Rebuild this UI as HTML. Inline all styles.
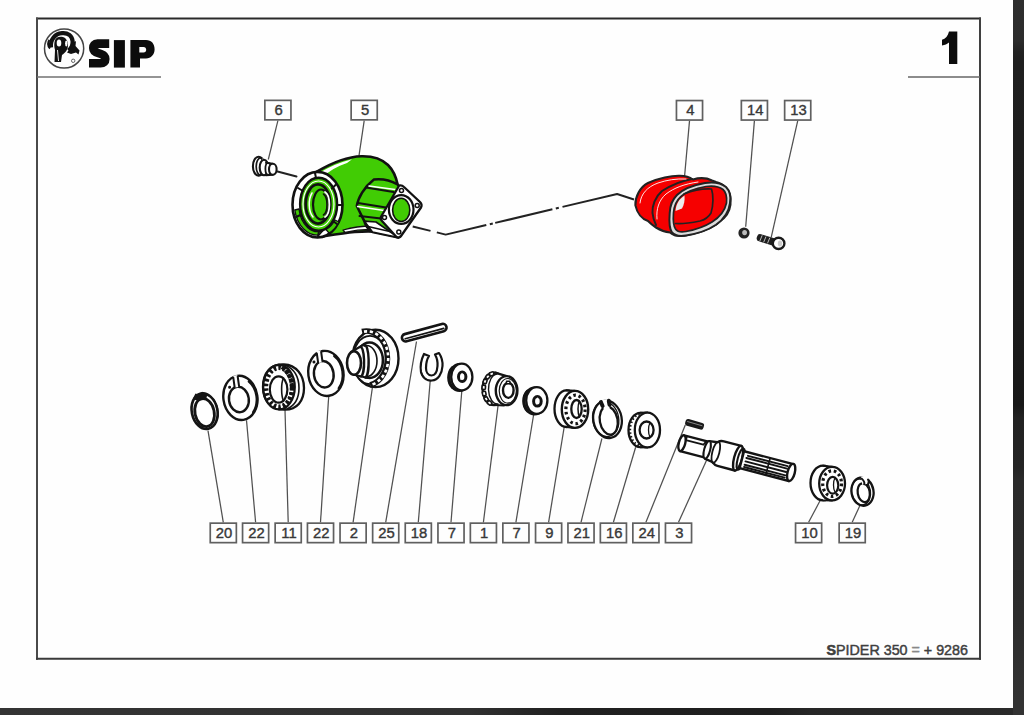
<!DOCTYPE html>
<html><head><meta charset="utf-8">
<style>
html,body{margin:0;padding:0;background:#fefefe;}
body{width:1024px;height:715px;position:relative;overflow:hidden;font-family:"Liberation Sans",sans-serif;}
#darkR{position:absolute;left:1013px;top:0;width:11px;height:715px;background:linear-gradient(#2e2e2e 0px,#2c2c2c 40px,#222 52px,#1f1f1f 62px,#1c1c1c 300px,#181818 405px,#222 418px,#242424 468px,#2a2a2a 480px,#2c2c2c 620px,#333 700px);}
#darkB{position:absolute;left:0;top:708px;width:1013px;height:7px;background:linear-gradient(90deg,#343434 0px,#303030 470px,#202020 560px,#1e1e1e 770px,#262626 810px,#2a2a2a 1013px);}
svg{position:absolute;left:0;top:0;}
.n{font-family:"Liberation Sans",sans-serif;font-size:15.2px;fill:#383838;stroke:#383838;stroke-width:0.4px;text-anchor:middle;}
.ld{stroke:#505050;stroke-width:1.25;}
</style></head><body>
<div id="darkR"></div><div id="darkB"></div>
<svg width="1024" height="715" viewBox="0 0 1024 715">
  <line x1="36" y1="18.4" x2="981" y2="18.4" stroke="#2a2a2a" stroke-width="2"/>
  <line x1="37" y1="17.4" x2="37" y2="659.8" stroke="#4a4a4a" stroke-width="2"/>
  <line x1="980" y1="17.4" x2="980" y2="659.8" stroke="#404040" stroke-width="2"/>
  <line x1="36" y1="658.8" x2="981" y2="658.8" stroke="#3a3a3a" stroke-width="2"/>
  <line x1="37" y1="77" x2="161" y2="77" stroke="#707070" stroke-width="1.4"/>
  <line x1="908" y1="77" x2="980" y2="77" stroke="#666" stroke-width="1.4"/>
  <circle cx="64.1" cy="48.5" r="19.6" fill="none" stroke="#444" stroke-width="1.5"/>
  <path d="M51,47.5 C50,39.5 55,33.8 62,33.2 C68,32.6 72,36 72.6,41 C73,45 71.5,48 68.5,50.5" fill="none" stroke="#111" stroke-width="4.2"/>
  <path d="M49.5,40 C47.5,42 47.5,46 50,48.5" fill="none" stroke="#111" stroke-width="2"/>
  <path d="M55,40 C56,37 60,36 63,37 C66,38 68,41 68,45 C68,50 65,53 62,55 L61,62 L54.5,62 L55,50 C54,47 54,43 55,40 Z" fill="#111"/>
  <ellipse cx="59" cy="43" rx="2.3" ry="3.6" fill="#fff"/>
  <ellipse cx="66.3" cy="43.5" rx="1.2" ry="3" fill="#fff"/>
  <path d="M57.5,50 L58.5,61" stroke="#fff" stroke-width="0.9" fill="none"/>
  <path d="M67,52.5 C70,49 72,45 73,38.5 L74.5,42 L76,41 L75.5,46 L79.5,50.5 L78.5,54.5 L76,52.5 L71,54 Z" fill="#111"/>
  <circle cx="73.2" cy="60.8" r="1.7" fill="none" stroke="#555" stroke-width="0.9"/>
  <path d="M109.2,43.6 L97.5,43.6 C94.5,43.6 93.3,45.5 93.3,48 C93.3,50.8 95,52 98,53 L101,54 C104,55 105.3,56.5 105.3,59 C105.3,61.8 103.8,63.3 100.5,63.3 L89,63.3" fill="none" stroke="#0c0c0c" stroke-width="8.6" stroke-linejoin="round"/>
  <rect x="113.9" y="40.1" width="11" height="27.5" fill="#0c0c0c"/>
  <path fill-rule="evenodd" fill="#0c0c0c" d="M130.4,40.1 H146 C151.5,40.1 154.6,44 154.6,49.2 C154.6,54.5 151,58.4 146,58.4 H140 V67.6 H130.4 Z M139.3,47 H143.5 C145.3,47 146.2,48.2 146.2,49.8 C146.2,51.4 145.3,52.6 143.5,52.6 H139.3 Z"/>
  <path d="M949,31.5 H957.3 V64 H949 V42.5 C947.2,44 944.8,45 942,45.5 V39.8 C945.5,38.8 948,35.8 949,31.5 Z" fill="#0c0c0c"/>
  <text x="826.5" y="654.5" font-family="Liberation Sans" font-size="14.5" fill="#3e3e3e" stroke="#3e3e3e" stroke-width="0.45" textLength="141.5" lengthAdjust="spacingAndGlyphs"><tspan font-weight="bold" stroke-width="0.6">S</tspan>PIDER 350 <tspan fill="#888" stroke="#888">=</tspan> + 9286</text>
<rect x="264.85" y="100.35" width="26.10" height="19.50" fill="none" stroke="#606060" stroke-width="1.7"/>
<text transform="translate(278.70,115.20) scale(0.975,1)" class="n">6</text>
<line x1="277.90" y1="120.70" x2="268.3" y2="159.5" class="ld"/>
<rect x="351.15" y="100.35" width="26.10" height="19.50" fill="none" stroke="#606060" stroke-width="1.7"/>
<text transform="translate(365.00,115.20) scale(0.975,1)" class="n">5</text>
<line x1="364.20" y1="120.70" x2="359" y2="155.6" class="ld"/>
<rect x="676.45" y="100.55" width="26.10" height="19.50" fill="none" stroke="#606060" stroke-width="1.7"/>
<text transform="translate(690.30,115.40) scale(0.975,1)" class="n">4</text>
<line x1="689.50" y1="120.90" x2="684.5" y2="177" class="ld"/>
<rect x="741.35" y="100.55" width="26.10" height="19.50" fill="none" stroke="#606060" stroke-width="1.7"/>
<text transform="translate(755.20,115.40) scale(0.975,1)" class="n">14</text>
<line x1="754.40" y1="120.90" x2="745.7" y2="226.8" class="ld"/>
<rect x="784.65" y="100.55" width="26.10" height="19.50" fill="none" stroke="#606060" stroke-width="1.7"/>
<text transform="translate(798.50,115.40) scale(0.975,1)" class="n">13</text>
<line x1="797.70" y1="120.90" x2="771.2" y2="237.3" class="ld"/>
<rect x="210.25" y="523.15" width="26.10" height="19.50" fill="none" stroke="#606060" stroke-width="1.7"/>
<text transform="translate(224.10,538.00) scale(0.975,1)" class="n">20</text>
<line x1="223.30" y1="522.30" x2="208" y2="430.7" class="ld"/>
<rect x="242.55" y="523.15" width="26.10" height="19.50" fill="none" stroke="#606060" stroke-width="1.7"/>
<text transform="translate(256.40,538.00) scale(0.975,1)" class="n">22</text>
<line x1="255.60" y1="522.30" x2="246.5" y2="420.2" class="ld"/>
<rect x="275.15" y="523.15" width="26.10" height="19.50" fill="none" stroke="#606060" stroke-width="1.7"/>
<text transform="translate(289.00,538.00) scale(0.975,1)" class="n">11</text>
<line x1="288.20" y1="522.30" x2="285" y2="409.7" class="ld"/>
<rect x="307.45" y="523.15" width="26.10" height="19.50" fill="none" stroke="#606060" stroke-width="1.7"/>
<text transform="translate(321.30,538.00) scale(0.975,1)" class="n">22</text>
<line x1="320.50" y1="522.30" x2="328.7" y2="396.5" class="ld"/>
<rect x="340.05" y="523.15" width="26.10" height="19.50" fill="none" stroke="#606060" stroke-width="1.7"/>
<text transform="translate(353.90,538.00) scale(0.975,1)" class="n">2</text>
<line x1="353.10" y1="522.30" x2="372.4" y2="387.5" class="ld"/>
<rect x="372.65" y="523.15" width="26.10" height="19.50" fill="none" stroke="#606060" stroke-width="1.7"/>
<text transform="translate(386.50,538.00) scale(0.975,1)" class="n">25</text>
<line x1="385.70" y1="522.30" x2="416.5" y2="341.5" class="ld"/>
<rect x="405.25" y="523.15" width="26.10" height="19.50" fill="none" stroke="#606060" stroke-width="1.7"/>
<text transform="translate(419.10,538.00) scale(0.975,1)" class="n">18</text>
<line x1="418.30" y1="522.30" x2="430.2" y2="381" class="ld"/>
<rect x="437.95" y="523.15" width="26.10" height="19.50" fill="none" stroke="#606060" stroke-width="1.7"/>
<text transform="translate(451.80,538.00) scale(0.975,1)" class="n">7</text>
<line x1="451.00" y1="522.30" x2="461.8" y2="391" class="ld"/>
<rect x="470.35" y="523.15" width="26.10" height="19.50" fill="none" stroke="#606060" stroke-width="1.7"/>
<text transform="translate(484.20,538.00) scale(0.975,1)" class="n">1</text>
<line x1="483.40" y1="522.30" x2="498" y2="406" class="ld"/>
<rect x="502.85" y="523.15" width="26.10" height="19.50" fill="none" stroke="#606060" stroke-width="1.7"/>
<text transform="translate(516.70,538.00) scale(0.975,1)" class="n">7</text>
<line x1="515.90" y1="522.30" x2="533.75" y2="414" class="ld"/>
<rect x="535.55" y="523.15" width="26.10" height="19.50" fill="none" stroke="#606060" stroke-width="1.7"/>
<text transform="translate(549.40,538.00) scale(0.975,1)" class="n">9</text>
<line x1="548.60" y1="522.30" x2="564.2" y2="427" class="ld"/>
<rect x="567.95" y="523.15" width="26.10" height="19.50" fill="none" stroke="#606060" stroke-width="1.7"/>
<text transform="translate(581.80,538.00) scale(0.975,1)" class="n">21</text>
<line x1="581.00" y1="522.30" x2="601.9" y2="438.5" class="ld"/>
<rect x="600.35" y="523.15" width="26.10" height="19.50" fill="none" stroke="#606060" stroke-width="1.7"/>
<text transform="translate(614.20,538.00) scale(0.975,1)" class="n">16</text>
<line x1="613.40" y1="522.30" x2="636" y2="446" class="ld"/>
<rect x="632.85" y="523.15" width="26.10" height="19.50" fill="none" stroke="#606060" stroke-width="1.7"/>
<text transform="translate(646.70,538.00) scale(0.975,1)" class="n">24</text>
<line x1="645.90" y1="522.30" x2="685.3" y2="424.9" class="ld"/>
<rect x="665.45" y="523.15" width="26.10" height="19.50" fill="none" stroke="#606060" stroke-width="1.7"/>
<text transform="translate(679.30,538.00) scale(0.975,1)" class="n">3</text>
<line x1="678.50" y1="522.30" x2="706.9" y2="459.6" class="ld"/>
<rect x="795.55" y="523.15" width="26.10" height="19.50" fill="none" stroke="#606060" stroke-width="1.7"/>
<text transform="translate(809.40,538.00) scale(0.975,1)" class="n">10</text>
<line x1="808.60" y1="522.30" x2="819.9" y2="501" class="ld"/>
<rect x="839.15" y="523.15" width="26.10" height="19.50" fill="none" stroke="#606060" stroke-width="1.7"/>
<text transform="translate(853.00,538.00) scale(0.975,1)" class="n">19</text>
<line x1="852.20" y1="522.30" x2="859.7" y2="506" class="ld"/>
<g id="parts" stroke-linejoin="round" stroke-linecap="round">
<!-- dash-dot line top -->
<polyline points="277.5,171.5 296.5,176.5" fill="none" stroke="#222" stroke-width="2"/>
<path d="M412.7,226.5 L430.5,230.9 M436.8,232.4 L445.7,234.6 L486.3,225 M489.8,224.2 L492.8,223.5 M495.2,222.9 L552.4,209.3 M555.8,208.5 L558.8,207.8 M562.5,206.9 L617.1,194 L634,199.5" fill="none" stroke="#222" stroke-width="2" stroke-linecap="butt"/>

<!-- plug 6 -->
<g stroke="#151515" stroke-width="2.1" fill="#fff">
  <ellipse cx="258.5" cy="166.2" rx="5.6" ry="9.4"/>
  <ellipse cx="260.6" cy="166.5" rx="4.4" ry="8.6" fill="none" stroke-width="1.7"/>
  <path d="M262,158.5 L266,160 L266,175 L262,175.5 Z" stroke="none"/>
  <ellipse cx="264" cy="167.5" rx="4.3" ry="7.8"/>
  <path d="M266,162.8 L272.8,163.7 L272.8,174.7 L266,175.2 Z" stroke="none"/>
  <line x1="266" y1="162.8" x2="272.8" y2="163.7" stroke-width="2"/>
  <line x1="266" y1="175.2" x2="272.8" y2="174.7" stroke-width="2"/>
  <ellipse cx="268.2" cy="168.8" rx="2.8" ry="6" fill="none" stroke-width="1.8"/>
  <ellipse cx="272.8" cy="169.2" rx="3.8" ry="5.5"/>
</g>

<!-- housing 5 -->
<g stroke="#111" stroke-width="2.6" fill="#41cc04">
  <path d="M316.4,171.9 C333,162 348,156.5 361.6,156.2 C372,156 381,158 388,165 C393,170 396,177 397.5,184 L380,232 C362,230 345,233 320.5,236.8 Z"/>
  <path d="M319,173 C330,166.5 340,162 352,159.2 L347,163 C337,166.5 329,171 323,177 Z" fill="#fff" stroke="none"/>
  <path d="M345,232.5 C355,230 365,229 375,229.5 L372,226 C360,226 350,228 343,230 Z" fill="#fff" stroke-width="1.3"/>
  <ellipse cx="317.5" cy="204.7" rx="25" ry="32.8" fill="#fff"/>
  <path d="M294.8,210 A23,31 0 0 0 319,235 L323,230.5 A19,27 0 0 1 299,209 Z" fill="#41cc04" stroke-width="1.4"/>
  <path d="M329,233 A23,31 0 0 0 339,222 L335,220 A19,27 0 0 1 326,229.5 Z" fill="#41cc04" stroke-width="1.2"/>
  <ellipse cx="318.6" cy="204.3" rx="18.5" ry="26.5" stroke-width="2.4"/>
  <ellipse cx="318.5" cy="204" rx="15.5" ry="23" fill="none" stroke="#fff" stroke-width="1.2"/>
  <ellipse cx="318" cy="204" rx="12.3" ry="19.6" stroke-width="2.8"/>
  <ellipse cx="321" cy="204.5" rx="8" ry="15" fill="none" stroke-width="2.2"/>
  <path d="M312,193 A8,15 0 0 0 313,217" fill="none" stroke="#fff" stroke-width="1.5"/>
  <path d="M325,192 A6,13 0 0 1 325,217" fill="none" stroke="#fff" stroke-width="1.8"/>
  <path d="M323.5,194 A5,11 0 0 1 323.5,215" fill="none" stroke-width="1.6"/>
  <line x1="298" y1="188" x2="303" y2="191" stroke-width="2"/>
  <line x1="315" y1="173" x2="316" y2="178" stroke-width="2"/>
  <line x1="335.5" y1="185" x2="332" y2="188.5" stroke-width="2"/>
  <line x1="342" y1="205" x2="337" y2="205" stroke-width="2"/>
  <line x1="337" y1="224" x2="333" y2="221" stroke-width="2"/>
  <line x1="318" y1="236.5" x2="319" y2="231" stroke-width="2"/>
  <line x1="296" y1="217" x2="300.5" y2="215" stroke-width="2"/>
  <!-- right block neck -->
  <path d="M373.9,179.4 C382,178.5 390,180 397.1,184.2 L405,192 L398.5,237.5 L372.5,232 C368,229 365,225 364.3,221.1 L356.8,206 C358,198 364,187 373.9,179.4 Z" stroke-width="2.5"/>
  <path d="M372.5,232 L364.3,221.1 L376,222 L398.5,237.5 Z" fill="#fff" stroke-width="1.6"/>
  <line x1="368" y1="226.5" x2="392" y2="232" stroke-width="1.5"/>
  <path d="M366,187.5 L393.5,192" fill="none" stroke-width="2.2"/>
  <path d="M369,186 L395,189.5" fill="none" stroke="#fff" stroke-width="1.3"/>
  <path d="M358,203 L386,207.5" fill="none" stroke-width="2.2"/>
  <path d="M357.5,206.5 L384,210.5" fill="none" stroke="#fff" stroke-width="1.3"/>
  <path d="M359.5,216 L381,218.5" fill="none" stroke-width="2"/>
  <!-- flange -->
  <path d="M399.2,185.5 C401,185 402.5,185.5 404,187 L420,202 C422,204 422,205.5 421,207.5 L401,236 C400,237.5 398,238 396.5,237 L382,221 C380.5,219.5 380.5,217.5 381.5,216 Z" fill="#fff" stroke-width="2.3"/>
  <ellipse cx="401.2" cy="209.5" rx="12.3" ry="14.4" fill="#fff" stroke-width="2.2"/>
  <ellipse cx="401.2" cy="209.9" rx="8.6" ry="11.6" stroke-width="1.6"/>
  <circle cx="401.5" cy="190.5" r="2" fill="#fff" stroke-width="1.5"/>
  <circle cx="417.2" cy="205.5" r="2" fill="#fff" stroke-width="1.5"/>
  <circle cx="398.8" cy="232" r="2" fill="#fff" stroke-width="1.5"/>
  <circle cx="384.5" cy="217.5" r="2" fill="#fff" stroke-width="1.5"/>
</g>

<!-- seal 4 -->
<g stroke="#222" stroke-width="2.1" fill="#f60000">
  <path d="M635.4,205.4 C635,197 640,187 648,183 C658,178 672,175.5 680,175.8 C686,176 690,177.5 693,179.5 C698,178 706,177.5 712,180.5 L716,182 C724,184 730,190 730.6,199 C731,206 729,213 724,218 C716,226 703,232 690,234.5 C682,236.5 676,237 672,234 L670,232.5 C665,232 660,230 656,227.5 C652,225 650,223 648,221 C642,219 637,213 635.4,205.4 Z"/>
  <path d="M692,179 C680,181 670,186 662,191 C655,197 652,206 652.5,213 C653,218 654,221 656,225" fill="none" stroke-width="2"/>
  <path d="M640,203 C641,194 647,187 658,183 C667,180 676,178.5 686,179" fill="none" stroke="#fff" stroke-width="0.9"/>
  <path d="M657,219 C656,209 659,200 666,194 C674,188 684,184 698,182" fill="none" stroke="#fff" stroke-width="0.9"/>
  <path d="M669.7,213 C670,205 673,199 677,195 C683,189 694,185 705,183 C713,181.8 721,183 726,187 C730,191 731,197 730,203 C729,211 724,219 716,224.8 C707,231 696,234 686,235.5 C680,236.5 675,236 672,232.5 C669.5,229 669,222 669.7,213 Z" fill="#dcdcdc" stroke-width="2"/>
  <path d="M673.5,213 C674,206 677,200 681,196.5 C687,191 697,188 706,186.5 C713,185.5 719,186.5 723,189.5 C726.5,192.5 727,198 726.5,203 C725,210 720,217 712,222 C704,227 694,230 686,231.5 C681,232.5 677.5,232 675.5,229 C673.5,226 673,220 673.5,213 Z" stroke-width="1.7"/>
  <path d="M684,194 C694,190 704,188.5 711.5,189 C713.5,195 713.5,205 711,213 C708,218 704,220 700,221 C690,223 682,224 675.5,223.5" fill="none" stroke-width="1.7"/>
  <path d="M675.5,211 C676,204 679,199 684.5,195.5 C685,200 684,205 682,208.5 Z" fill="#ececec" stroke="none"/>
</g>

<!-- washer 14 -->
<circle cx="744" cy="233" r="5.6" fill="#222"/>
<ellipse cx="744.6" cy="232.6" rx="2.4" ry="2.6" fill="#bbb"/>
<!-- bolt 13 -->
<g transform="translate(757,236.8) rotate(17)">
  <rect x="0" y="-3.6" width="21" height="7.4" rx="3.2" fill="#1e1e1e"/>
  <line x1="4.5" y1="-2.5" x2="4" y2="2.8" stroke="#bbb" stroke-width="0.9"/>
  <line x1="8.5" y1="-2.5" x2="8" y2="2.8" stroke="#bbb" stroke-width="0.9"/>
  <line x1="12.5" y1="-2.5" x2="12" y2="2.8" stroke="#bbb" stroke-width="0.9"/>
</g>
<ellipse cx="778.6" cy="243.4" rx="5.8" ry="5.6" fill="#fff" stroke="#1a1a1a" stroke-width="2.4"/>
<ellipse cx="780" cy="243.4" rx="2.2" ry="3" fill="#ccc" stroke="none"/>

<!-- ===== lower row ===== -->
<g stroke="#141414" stroke-width="2.3" fill="#fff">
<!-- ring 20 -->
<g transform="translate(204.6,411.2) rotate(-12)">
  <ellipse cx="0" cy="0" rx="12.8" ry="18" stroke-width="2.6"/>
  <path d="M9,-13 A12,17 0 0 1 9,13" fill="none" stroke-width="1.2"/>
  <ellipse cx="-0.3" cy="1.3" rx="9.6" ry="14.2" stroke-width="2.8"/>
  <path d="M-7.5,-14.5 L-5,-18 L-1.5,-16 L1.5,-18.5 L5,-15.5 L3,-12 L-4,-12.5 Z" fill="#141414" stroke-width="2"/>
</g>
<!-- ring 22a -->
<g transform="translate(239.2,398) rotate(-8)">
  <ellipse cx="1.2" cy="0" rx="17" ry="22.2" stroke-width="2.4"/>
  <path d="M12,-15 A15,20 0 0 1 12,16" fill="none" stroke-width="2.6"/>
  <ellipse cx="-0.5" cy="1.4" rx="9.9" ry="12.8" stroke-width="2.4"/>
  <rect x="-3" y="-23" width="4.5" height="12" fill="#fff" stroke="none"/>
  <line x1="-3" y1="-21" x2="-3" y2="-11.5" stroke-width="2"/>
  <line x1="1.5" y1="-21.5" x2="1.5" y2="-11.5" stroke-width="2"/>
  <circle cx="-8" cy="-12" r="1.5" fill="#141414" stroke="none"/>
</g>
<!-- bearing 11 -->
<g>
  <path d="M263,387 C263,372 271,364 284,364.5 C296,365 304,375 304,388 C304,401 297,409.5 285,409.6 C271,410 263,401 263,387 Z" stroke-width="2.3"/>
  <path d="M285,365 C297,370 299,380 299,388 C299,398 296,405 287,409" fill="none" stroke-width="1.6"/>
  <ellipse cx="279" cy="387.1" rx="15.8" ry="22.3" stroke-width="2.2"/>
  <ellipse cx="279" cy="387.3" rx="13.2" ry="19.6" fill="none" stroke-width="4.8" stroke-dasharray="2.6,2.2" stroke-linecap="butt"/>
  <path d="M282,367 C289,373 292,380 292,388 C292,397 289,403 283,408" fill="none" stroke-width="4.2" stroke-dasharray="2.6,2.2" stroke-linecap="butt"/>
  <ellipse cx="278.6" cy="389.5" rx="8.8" ry="13.2" stroke-width="2.2"/>
  <path d="M283.5,378 C281,383 281,395 283.5,401" fill="none" stroke-width="1.6"/>
</g>
<!-- ring 22b -->
<g transform="translate(324.7,373.6) rotate(-8)">
  <ellipse cx="1.2" cy="0" rx="17.6" ry="22.6" stroke-width="2.4"/>
  <path d="M12,-16 A15.5,20.5 0 0 1 12,16.5" fill="none" stroke-width="2.6"/>
  <ellipse cx="-1" cy="0.5" rx="9.8" ry="13.3" stroke-width="2.4"/>
  <rect x="-5" y="-23.5" width="4.5" height="12" fill="#fff" stroke="none"/>
  <line x1="-5" y1="-21" x2="-5" y2="-12" stroke-width="2"/>
  <line x1="-0.5" y1="-22" x2="-0.5" y2="-12.5" stroke-width="2"/>
  <circle cx="-9" cy="-13" r="1.5" fill="#141414" stroke="none"/>
</g>
<!-- gear 2 -->
<g>
  <ellipse cx="375.5" cy="358.4" rx="23" ry="28.7" stroke-width="2.4"/>
  <ellipse cx="370" cy="360" rx="17.2" ry="24.2" stroke-width="1.8"/>
  <path d="M362,331.5 A21,26.7 0 0 1 370,385" fill="none" stroke-width="5.6" stroke-linecap="butt"/>
  <path d="M364,331.6 A21,26.7 0 0 1 370,385" fill="none" stroke="#fff" stroke-width="2.6" stroke-dasharray="3.2,2.6" stroke-linecap="butt"/>
  <ellipse cx="369.5" cy="360.3" rx="13.4" ry="17.7" stroke-width="2.5"/>
  <ellipse cx="366.5" cy="361" rx="10.5" ry="15.5" fill="none" stroke-width="1.6"/>
  <path d="M354,351.2 L364,344 L366,378 L354,374.8 Z" stroke="none"/>
  <line x1="351" y1="352" x2="364" y2="344.5" stroke-width="2.2"/>
  <line x1="354" y1="374.8" x2="368" y2="378" stroke-width="2.2"/>
  <path d="M360,347 A3.5,14.5 0 0 1 361,376.5" fill="none" stroke-width="2.4"/>
  <path d="M364.5,345.5 A3.5,15.5 0 0 1 365.5,377.5" fill="none" stroke-width="2.4"/>
  <ellipse cx="354" cy="363" rx="7" ry="11.8" stroke-width="2.6"/>
</g>
<!-- pin 25 -->
<g transform="translate(403,338.4) rotate(-15.2)">
  <rect x="-1" y="-3.7" width="46" height="7.4" rx="3.7" stroke-width="2.6"/>
  <line x1="2" y1="1" x2="42" y2="1" stroke-width="1.6"/>
</g>
<!-- circlip 18 -->
<path d="M424,354 C421,360 420,366 421,372 C423,379 428,381 432,380.5 C438,380 442,374 442.5,366 C442.8,361 441,356 439,353 L435,354.5 C437,358 437.8,362 437.5,366 C437,373 434,375.5 431.5,375.5 C428,375.5 426,372 426,368 C426,363 427,359 429,356 Z" stroke-width="2.2"/>
<path d="M421,372 C422,376 424,378 426,379" fill="none" stroke-width="1.5"/>
<!-- washer 7a -->
<g>
  <ellipse cx="459.6" cy="377.5" rx="10.6" ry="13.3" stroke-width="2.4"/>
  <path d="M452.5,367.5 A9.5,12.5 0 0 0 452.5,387.5" fill="none" stroke-width="3"/>
  <ellipse cx="461.8" cy="377" rx="10.6" ry="13.3" stroke-width="2.3"/>
  <ellipse cx="462.2" cy="376.7" rx="3.7" ry="4.7" stroke-width="3"/>
  <path d="M462,373.5 L461,379.5" stroke="#fff" stroke-width="1"/>
</g>
<!-- gear 1 -->
<g>
  <ellipse cx="494" cy="388.8" rx="11.4" ry="16.2" stroke-width="2.4"/>
  <rect x="-2.1" y="-1.7" width="4.2" height="3.4" rx="0.8" transform="translate(491.70,373.93) rotate(-21.2)" stroke-width="1.6"/>
  <rect x="-2.1" y="-1.7" width="4.2" height="3.4" rx="0.8" transform="translate(487.85,376.71) rotate(-48.5)" stroke-width="1.6"/>
  <rect x="-2.1" y="-1.7" width="4.2" height="3.4" rx="0.8" transform="translate(485.05,381.44) rotate(-69.0)" stroke-width="1.6"/>
  <rect x="-2.1" y="-1.7" width="4.2" height="3.4" rx="0.8" transform="translate(483.76,387.37) rotate(-85.8)" stroke-width="1.6"/>
  <rect x="-2.1" y="-1.7" width="4.2" height="3.4" rx="0.8" transform="translate(484.17,393.56) rotate(-102.0)" stroke-width="1.6"/>
  <rect x="-2.1" y="-1.7" width="4.2" height="3.4" rx="0.8" transform="translate(486.23,399.03) rotate(-120.2)" stroke-width="1.6"/>
  <rect x="-2.1" y="-1.7" width="4.2" height="3.4" rx="0.8" transform="translate(489.60,402.90) rotate(-143.6)" stroke-width="1.6"/>
  <path d="M495,372.6 L506.6,376.1 L506.6,405.1 L495,405 Z" stroke="none"/>
  <line x1="495" y1="372.6" x2="506.6" y2="376.1" stroke-width="2.2"/>
  <line x1="495" y1="405" x2="504" y2="405.5" stroke-width="2.2"/>
  <path d="M497,374 A9,15 0 0 0 498,404" fill="none" stroke-width="1.4"/>
  <ellipse cx="506.6" cy="390.6" rx="10.8" ry="14.5" stroke-width="2.4"/>
  <ellipse cx="507.8" cy="390.8" rx="8.6" ry="12.3" fill="none" stroke-width="1.2"/>
  <ellipse cx="508.3" cy="390.3" rx="5.3" ry="7.6" stroke-width="2.4"/>
  <rect x="506.5" y="381.2" width="3.4" height="2.6" stroke-width="1.4"/>
</g>
<!-- washer 7b -->
<g>
  <ellipse cx="534.6" cy="401" rx="10.6" ry="13.3" stroke-width="2.4"/>
  <path d="M527.5,391 A9.5,12.5 0 0 0 527.5,411" fill="none" stroke-width="3"/>
  <ellipse cx="536.8" cy="400.5" rx="10.6" ry="13.3" stroke-width="2.3"/>
  <ellipse cx="537.4" cy="401.3" rx="3.8" ry="4.8" stroke-width="3"/>
  <path d="M537.5,398 L536.5,404" stroke="#fff" stroke-width="1"/>
</g>
<!-- bearing 9 -->
<g>
  <ellipse cx="566.5" cy="408.7" rx="12" ry="18.3" stroke-width="2.3"/>
  <rect x="566.5" y="391.5" width="8" height="35" stroke="none"/>
  <path d="M566.5,390.4 L574.7,390.9 M566.5,427 L574.7,427.9" stroke-width="2.2"/>
  <ellipse cx="575" cy="409.4" rx="13.2" ry="18.5" stroke-width="2.4"/>
  <ellipse cx="575.5" cy="409.4" rx="9.6" ry="14.2" fill="none" stroke-width="3.2" stroke-dasharray="2.6,2.8" stroke-linecap="butt"/>
  <ellipse cx="576.5" cy="409" rx="5.2" ry="9" stroke-width="2.3"/>
  <path d="M579.5,401 C577.5,405 577.5,413 579.5,417" fill="none" stroke-width="1.5"/>
</g>
<!-- circlip 21 -->
<g transform="translate(607,419.4) rotate(-10)">
  <ellipse cx="0.5" cy="0" rx="14.2" ry="18.8" stroke-width="2.3"/>
  <ellipse cx="-1.2" cy="-0.5" rx="13" ry="17.6" fill="none" stroke-width="1.3"/>
  <ellipse cx="1.5" cy="1.5" rx="8.9" ry="14.2" stroke-width="2.3"/>
  <rect x="-1.5" y="-20" width="6" height="10" fill="#fff" stroke="none"/>
  <path d="M-3,-18 L-2,-14" stroke-width="4"/>
  <path d="M5,-18 L5,-14" stroke-width="4"/>
</g>
<!-- bearing 16 -->
<g>
  <rect x="633" y="412.8" width="14" height="34.4" stroke="none"/>
  <ellipse cx="640.5" cy="430" rx="12" ry="17.2" stroke-width="2.3"/>
  <ellipse cx="640.5" cy="430" rx="10.5" ry="15.5" fill="none" stroke-width="2.4" stroke-dasharray="1.5,2.2" stroke-linecap="butt"/>
  <rect x="640.5" y="413.5" width="7" height="33" stroke="none"/>
  <path d="M640.5,412.8 L647.4,412.6 M640.5,447.2 L647.4,447.4" stroke-width="2"/>
  <ellipse cx="647.4" cy="430" rx="12.6" ry="17.4" stroke-width="2.3"/>
  <ellipse cx="646.6" cy="430" rx="7" ry="8.5" stroke-width="2.3"/>
  <path d="M650,423 C648,426 648,434 650,437" fill="none" stroke-width="1.3"/>
</g>
<!-- key 24 -->
<g transform="translate(685.5,421.5) rotate(16)">
  <rect x="0" y="-3.2" width="19" height="6.8" rx="2.5" fill="#1a1a1a" stroke="none"/>
  <line x1="2" y1="-0.5" x2="17" y2="-0.5" stroke="#999" stroke-width="0.8"/>
</g>
<!-- shaft 3 -->
<g transform="translate(682,443.3) rotate(14.6)">
  <path d="M0,-8.2 L26,-8.2 L26,8 L0,8 Z" stroke-width="2.4"/>
  <ellipse cx="0" cy="-0.1" rx="3.2" ry="8.1" stroke-width="2.4"/>
  <path d="M3,-8 L3,-4 L21,-4 L23,-8" fill="none" stroke-width="1.8"/>
  <path d="M26,-9 L34,-10 C36,-12 38,-12.5 40,-12.5 L58,-12.5 L58,13 L40,13 C38,13 36,12 34,10.5 L26,9" stroke-width="2.4"/>
  <ellipse cx="26" cy="0" rx="3" ry="9" stroke-width="2"/>
  <ellipse cx="35" cy="0.2" rx="3.5" ry="10.8" fill="none" stroke-width="1.8"/>
  <ellipse cx="58" cy="0.3" rx="4" ry="12.7" stroke-width="2.4"/>
  <ellipse cx="60.8" cy="0.5" rx="3" ry="11" fill="none" stroke-width="2"/>
  <path d="M62,-8 L113,-8 L113,9.5 L62,9.5 Z" stroke-width="2.4"/>
  <path d="M67,-4.5 L108,-4.5 M66,-2 L108,-2 M66,1.5 L108,1.5 M66,5 L108,5 M66,7.3 L108,7.3" stroke-width="1.9"/>
  <line x1="89" y1="-8" x2="89" y2="9.5" stroke-width="1.6"/>
  <ellipse cx="113" cy="0.7" rx="3.6" ry="8.8" stroke-width="2.4"/>
</g>
<!-- bearing 10 -->
<g>
  <rect x="822" y="466" width="10" height="35" stroke="none"/>
  <ellipse cx="823" cy="483" rx="12.5" ry="17.3" stroke-width="2.3"/>
  <path d="M823,465.7 L832.1,466.8 M823,500.3 L832.1,500.4" stroke-width="2"/>
  <rect x="823" y="467.5" width="9" height="32" stroke="none"/>
  <ellipse cx="832.1" cy="483.6" rx="12.9" ry="16.8" stroke-width="2.3"/>
  <ellipse cx="832.1" cy="483.6" rx="9.4" ry="12.8" fill="none" stroke-width="3.2" stroke-dasharray="2.6,2.8" stroke-linecap="butt"/>
  <ellipse cx="832.7" cy="485.3" rx="5.6" ry="8.4" stroke-width="2.2"/>
  <path d="M835,478 C833,481 833,489 835,492" fill="none" stroke-width="1.3"/>
</g>
<!-- circlip 19 -->
<g transform="translate(862.5,491.7) rotate(-10)">
  <ellipse cx="0" cy="0" rx="11" ry="14.2" stroke-width="2.3"/>
  <ellipse cx="-1.5" cy="0" rx="9.5" ry="13" fill="none" stroke-width="1.3"/>
  <ellipse cx="1" cy="1.2" rx="6" ry="9.5" stroke-width="2.2"/>
  <rect x="1" y="-15" width="7" height="8" fill="#fff" stroke="none"/>
  <path d="M1.5,-13 C3,-11 4,-9 3,-7" fill="none" stroke-width="2"/>
  <path d="M7.5,-11 C9,-9 7,-7 6.5,-6" fill="none" stroke-width="2"/>
</g>
</g>
</g>

</svg>
</body></html>
